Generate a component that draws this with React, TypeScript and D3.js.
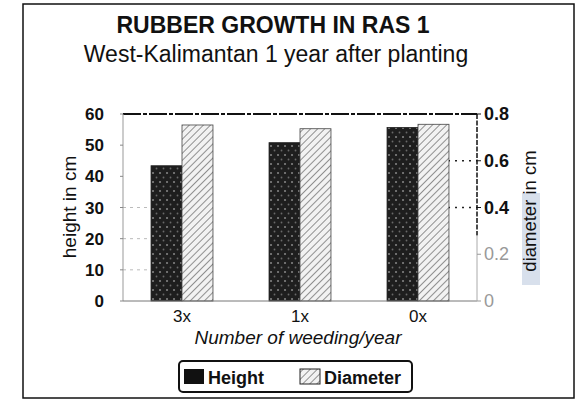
import React from 'react';
import * as d3 from 'd3';

const categories = ['3x', '1x', '0x'];
const heightValues = [43.4, 50.8, 55.7];
const diameterValues = [0.753, 0.737, 0.756];
const leftTicks = [0, 10, 20, 30, 40, 50, 60];
const rightTicks = [0, 0.2, 0.4, 0.6, 0.8];
const seriesNames = ['Height', 'Diameter'];

const W = 578;
const H = 401;
const FONT = '"Liberation Sans", Arial, sans-serif';

export default function App() {
  const margin = { left: 123, right: 101, top: 114 };
  const plotRight = W - margin.right;

  const x = d3.scaleBand<string>()
    .domain(categories)
    .range([margin.left, plotRight])
    .paddingInner(0.475)
    .paddingOuter(0.2375);

  const x1 = d3.scaleBand<string>()
    .domain(seriesNames)
    .range([0, x.bandwidth()]);

  const y = d3.scaleLinear().domain([0, 60]).range([301, margin.top]);
  const yR = d3.scaleLinear().domain([0, 0.8]).range([301, margin.top]);

  return (
    <div style={{ position: 'fixed', left: 0, top: 0 }}>
      <svg width={W} height={H} style={{ display: 'block', background: '#fff' }}>
        <defs>
          <pattern id="dots" width="7" height="9" patternUnits="userSpaceOnUse">
            <rect width="7" height="9" fill="#1e1e1e" />
            <circle cx="2" cy="2" r="1" fill="#8a8a8a" />
            <circle cx="5.5" cy="6.5" r="0.9" fill="#6a6a6a" />
          </pattern>
          <pattern id="hatch" width="5" height="5" patternUnits="userSpaceOnUse" patternTransform="rotate(45)">
            <rect width="5" height="5" fill="#f2f2f2" />
            <line x1="0" y1="0" x2="0" y2="5" stroke="#777" strokeWidth="1.6" />
          </pattern>
        </defs>

        {/* outer frame */}
        <rect x={23} y={4} width={551} height={394} fill="none" stroke="#111" strokeWidth={1.5} />

        <text x={273} y={33} textAnchor="middle" fontFamily={FONT} fontWeight="bold" fontSize={23} fill="#111">
          RUBBER GROWTH IN RAS 1
        </text>
        <text x={276} y={62} textAnchor="middle" fontFamily={FONT} fontSize={23} fill="#111">
          West-Kalimantan 1 year after planting
        </text>

        {/* faint grid */}
        {[10, 20, 30].map(t => (
          <line key={t} x1={margin.left} x2={150} y1={y(t)} y2={y(t)} stroke="#bbb" strokeDasharray="3,4" />
        ))}
        {[0.4, 0.6].map(t => (
          <line key={t} x1={448} x2={plotRight} y1={yR(t)} y2={yR(t)} stroke="#222" strokeDasharray="2,5" strokeWidth={1.5} />
        ))}
        <line x1={margin.left} x2={plotRight} y1={y(60)} y2={y(60)} stroke="#111" strokeWidth={2} strokeDasharray="18,2,4,2" />

        {/* bars */}
        {categories.map((c, i) => (
          <g key={c} transform={`translate(${x(c)},0)`}>
            <rect x={x1('Height')} y={y(heightValues[i])} width={x1.bandwidth()}
              height={y(0) - y(heightValues[i])} fill="url(#dots)" stroke="#222" strokeWidth={0.8} />
            <rect x={x1('Diameter')} y={yR(diameterValues[i])} width={x1.bandwidth()}
              height={yR(0) - yR(diameterValues[i])} fill="url(#hatch)" stroke="#444" strokeWidth={0.8} />
          </g>
        ))}

        {/* axes */}
        <line x1={margin.left} x2={margin.left} y1={y(60)} y2={y(0)} stroke="#999" />
        <line x1={margin.left} x2={plotRight} y1={y(0)} y2={y(0)} stroke="#777" />
        <line x1={plotRight} x2={plotRight} y1={yR(0.8)} y2={yR(0.28)} stroke="#111" strokeWidth={1.5} strokeDasharray="5,1.5" />
        <line x1={plotRight} x2={plotRight} y1={yR(0.28)} y2={yR(0)} stroke="#aaa" />

        {leftTicks.map(t => (
          <g key={t}>
            <line x1={margin.left - 3} x2={margin.left} y1={y(t)} y2={y(t)} stroke="#888" />
            <text x={104} y={y(t) + 6} textAnchor="end" fontFamily={FONT} fontWeight="bold" fontSize={17} fill="#111">
              {t}
            </text>
          </g>
        ))}
        {rightTicks.map(t => (
          <g key={t}>
            <line x1={plotRight} x2={plotRight + 4} y1={yR(t)} y2={yR(t)} stroke={t > 0.3 ? '#111' : '#999'} />
            <text x={484} y={yR(t) + 6} fontFamily={FONT} fontWeight={t > 0.3 ? 'bold' : 'normal'} fontSize={18}
              fill={t > 0.3 ? '#111' : '#999'}>
              {t === 0 ? '0' : t.toFixed(1)}
            </text>
          </g>
        ))}

        {categories.map(c => (
          <text key={c} x={(x(c) ?? 0) + x.bandwidth() / 2} y={322} textAnchor="middle"
            fontFamily={FONT} fontSize={17} fill="#111">
            {c}
          </text>
        ))}

        <text x={298} y={344} textAnchor="middle" fontFamily={FONT} fontStyle="italic" fontSize={19} fill="#111">
          Number of weeding/year
        </text>
        <text transform="translate(76,207) rotate(-90)" textAnchor="middle" fontFamily={FONT} fontSize={19} fill="#111">
          height in cm
        </text>
        <rect x={522} y={193} width={18} height={92} fill="#d8e0ec" />
        <text transform="translate(536,211) rotate(-90)" textAnchor="middle" fontFamily={FONT} fontSize={18.5} fill="#111">
          diameter in cm
        </text>

        {/* legend */}
        <rect x={179} y={361} width={233} height={31} rx={4} fill="#fff" stroke="#111" strokeWidth={2} />
        <rect x={184} y={369} width={20} height={15} fill="#111" />
        <text x={208} y={384} fontFamily={FONT} fontWeight="bold" fontSize={18} fill="#111">{seriesNames[0]}</text>
        <rect x={300} y={369} width={20} height={15} fill="url(#hatch)" stroke="#222" />
        <text x={324} y={384} fontFamily={FONT} fontWeight="bold" fontSize={18} fill="#111">{seriesNames[1]}</text>
      </svg>
    </div>
  );
}
